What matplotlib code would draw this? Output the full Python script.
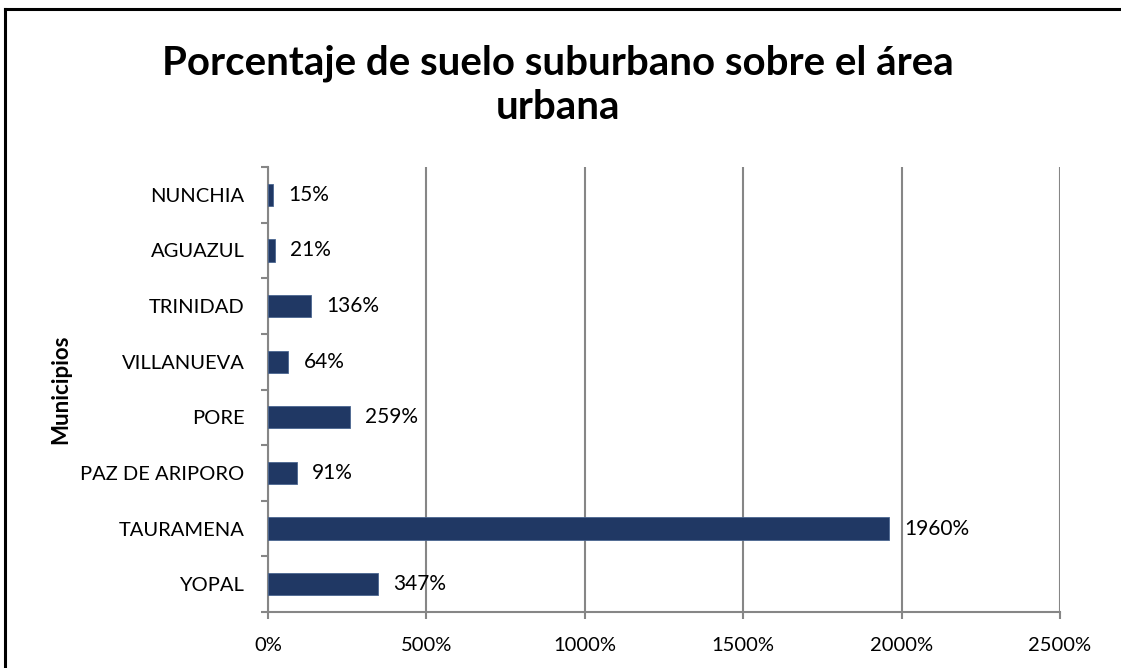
import matplotlib
matplotlib.use("Agg")
from matplotlib import pyplot as plt
from matplotlib.lines import Line2D
import numpy as np

municipios = ["YOPAL", "TAURAMENA", "PAZ DE ARIPORO", "PORE",
              "VILLANUEVA", "TRINIDAD", "AGUAZUL", "NUNCHIA"]
porcentajes = [347, 1960, 91, 259, 64, 136, 21, 15]
xticks = [0, 500, 1000, 1500, 2000, 2500]

plt.rcParams["font.family"] = ["Lato", "DejaVu Sans"]

W, H = 1121, 668
fig = plt.figure(figsize=(W / 100, H / 100), dpi=100)
ax = fig.add_axes([268 / W, 1 - 612 / H, (1060 - 268) / W, (612 - 167) / H])

grey = "#868686"
navy = "#203864"
fs = 14.5

y = np.arange(len(municipios))
ax.barh(y, porcentajes, height=0.4, color=navy, edgecolor="#4a6690", linewidth=0.6, zorder=3)

for yi, v in zip(y, porcentajes):
    ax.annotate(f"{v}%", (v, yi), xytext=(11, 0), textcoords="offset points",
                va="center", ha="left", fontsize=fs + 0.5, color="black")

ax.set_xlim(0, 2500)
ax.set_ylim(-0.5, len(municipios) - 0.5)
ax.set_xticks(xticks)
ax.set_xticklabels([f"{t}%" for t in xticks], fontsize=fs)
ax.set_yticks(y)
ax.set_yticklabels(municipios, fontsize=fs)
ax.tick_params(axis="y", length=0, pad=17)
ax.tick_params(axis="x", length=5, width=1.5, color=grey, pad=13)

# category boundary ticks on the y axis
ax.set_yticks(np.arange(-0.5, len(municipios)), minor=True)
ax.tick_params(axis="y", which="minor", length=5, width=1.5, color=grey)

ax.grid(axis="x", color=grey, linewidth=1.5, zorder=0)
ax.set_axisbelow(True)
for s in ["top", "right"]:
    ax.spines[s].set_visible(False)
for s in ["left", "bottom"]:
    ax.spines[s].set_color(grey)
    ax.spines[s].set_linewidth(1.5)

ax.set_ylabel("Municipios", fontsize=16, fontweight="bold")
ax.yaxis.set_label_coords(-197 / (1060 - 268), 0.5)

fig.text(558 / W, 1 - 85 / H, "Porcentaje de suelo suburbano sobre el área\nurbana",
         ha="center", va="center", fontsize=29, fontweight="bold", linespacing=1.25)

# outer frame (only top and left visible)
fig.add_artist(Line2D([5 / W, 1], [1 - 8.5 / H, 1 - 8.5 / H], color="black", lw=2.2,
                      transform=fig.transFigure))
fig.add_artist(Line2D([5 / W, 5 / W], [0, 1 - 8.5 / H], color="black", lw=2.2,
                      transform=fig.transFigure))

fig.savefig("out.png", dpi=100)
